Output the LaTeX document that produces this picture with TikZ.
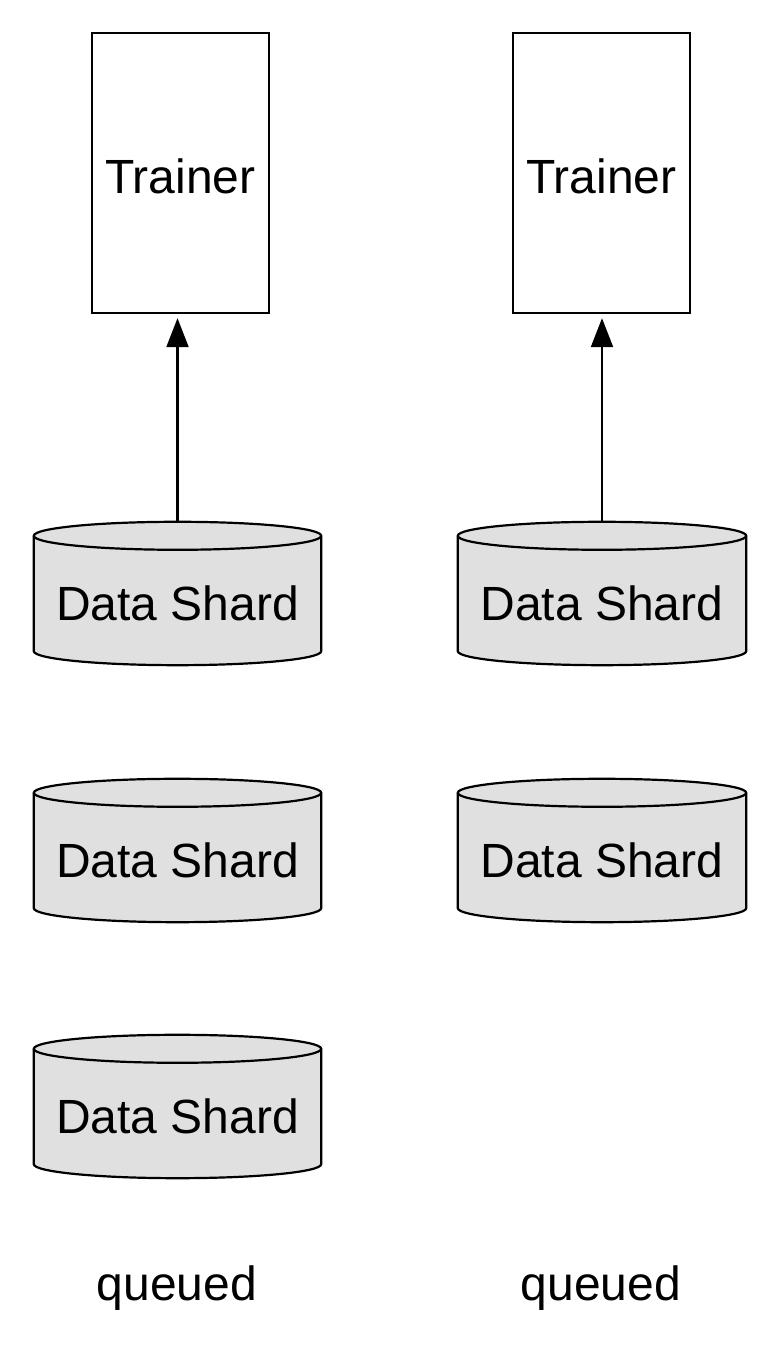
\documentclass[tikz,border=0pt]{standalone}
\usepackage{fontspec}
\setmainfont{Liberation Sans}
\usetikzlibrary{arrows.meta,calc,backgrounds}
\definecolor{shardgray}{RGB}{224,224,224}
\tikzset{
  trainerbox/.style={draw, line width=2.4pt, minimum width=177pt, minimum height=280pt, inner sep=0pt},
  shardbox/.style={minimum width=287pt, minimum height=143pt, inner sep=0pt},
  bigtext/.style={font=\fontsize{48}{56}\selectfont},
  flow/.style={line width=2.2pt, -{Triangle[length=29pt,width=22pt]}, shorten >=4pt},
}
\begin{document}
\begin{tikzpicture}[x=1pt,y=1pt]
\useasboundingbox (0,0) rectangle (779,1356);
% trainers
\node[trainerbox, label={[bigtext,yshift=-3pt]center:Trainer}] (tl) at (180.5,1183) {};
\node[trainerbox, label={[bigtext,yshift=-3pt]center:Trainer}] (tr) at (601.5,1183) {};
% shards
\node[shardbox, label={[bigtext,yshift=-9.5pt]center:Data Shard}] (l1) at (177.5,762.5) {};
\node[shardbox, label={[bigtext,yshift=-9.5pt]center:Data Shard}] (l2) at (177.5,505.5) {};
\node[shardbox, label={[bigtext,yshift=-9.5pt]center:Data Shard}] (l3) at (177.5,249.5) {};
\node[shardbox, minimum width=288pt, label={[bigtext,yshift=-9.5pt]center:Data Shard}] (r1) at (602,762.5) {};
\node[shardbox, minimum width=288pt, label={[bigtext,yshift=-9.5pt]center:Data Shard}] (r2) at (602,505.5) {};
\begin{pgfonlayer}{background}
\fill[white] (0,0) rectangle (779,1356);
\foreach \s in {l1,l2,l3,r1,r2} {
  \path let \p1=(\s.north west), \p2=(\s.south east), \n1={(\x2-\x1)/2} in
    [fill=shardgray, draw=black, line width=2.2pt]
    (\x1,\y1-14pt) -- (\x1,\y2+14pt)
    arc[start angle=180, end angle=360, x radius=\n1, y radius=14pt]
    -- (\x2,\y1-14pt)
    arc[start angle=0, end angle=180, x radius=\n1, y radius=14pt] -- cycle;
  \path let \p1=(\s.north west), \p2=(\s.south east), \n1={(\x2-\x1)/2} in
    [draw=black, line width=2.2pt]
    (\x1,\y1-14pt) arc[start angle=180, end angle=360, x radius=\n1, y radius=14pt];
}
\end{pgfonlayer}
% arrows
\draw[flow] (l1.north) -- (l1.north |- tl.south);
\draw[flow] (r1.north) -- (r1.north |- tr.south);
% queued labels
\node[bigtext, anchor=base] (ql) at (177,55) {queued};
\node[bigtext, anchor=base] (qr) at (601,55) {queued};
\end{tikzpicture}
\end{document}
